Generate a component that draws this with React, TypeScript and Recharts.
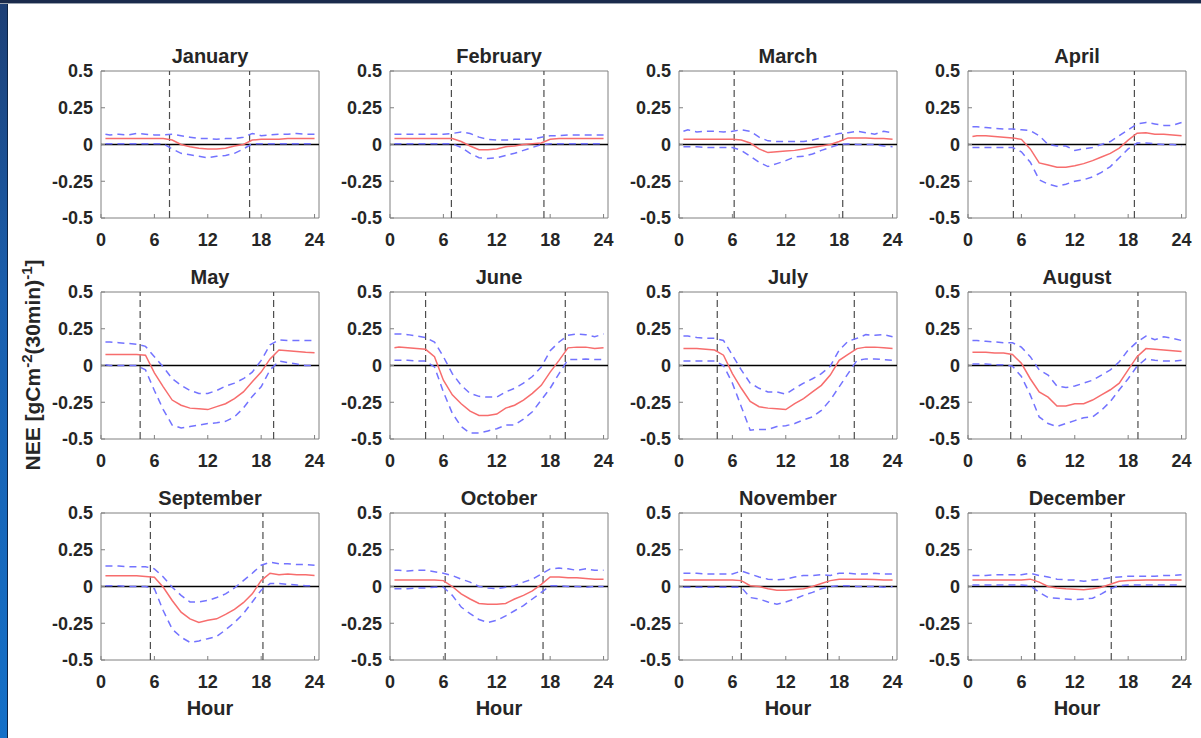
import React from "react";
import { LineChart, Line, XAxis, YAxis, ReferenceLine, ReferenceArea } from "recharts";

const HOURS = [0.5, 1, 2, 3, 4, 5, 6, 7, 8, 9, 10, 11, 12, 13, 14, 15, 16, 17, 18, 19, 20, 21, 22, 23, 24];

const MONTHS = [
  "January", "February", "March", "April", "May", "June",
  "July", "August", "September", "October", "November", "December",
];

const SUNRISE = [7.7, 6.9, 6.2, 5.1, 4.4, 4.0, 4.3, 4.8, 5.55, 6.2, 7.0, 7.5];
const SUNSET = [16.7, 17.3, 18.4, 18.7, 19.4, 19.7, 19.7, 19.1, 18.2, 17.2, 16.7, 16.1];

const X_TICKS = [0, 6, 12, 18, 24];
const Y_TICKS = [-0.5, -0.25, 0, 0.25, 0.5];

// mean NEE per month (red)
const MEAN = [
  [0.04, 0.04, 0.04, 0.04, 0.04, 0.04, 0.04, 0.04, 0.03, 0.0, -0.015, -0.025, -0.03, -0.03, -0.025, -0.01, 0.0, 0.03, 0.035, 0.035, 0.035, 0.04, 0.04, 0.04, 0.04],
  [0.04, 0.04, 0.04, 0.04, 0.04, 0.04, 0.04, 0.04, 0.02, -0.01, -0.035, -0.035, -0.03, -0.015, -0.01, 0.0, 0.005, 0.01, 0.035, 0.04, 0.04, 0.04, 0.04, 0.04, 0.04],
  [0.035, 0.035, 0.035, 0.035, 0.035, 0.035, 0.035, 0.03, 0.01, -0.03, -0.055, -0.05, -0.045, -0.04, -0.03, -0.02, -0.01, 0.0, 0.02, 0.045, 0.045, 0.045, 0.04, 0.04, 0.035],
  [0.055, 0.06, 0.06, 0.055, 0.05, 0.045, 0.035, -0.03, -0.125, -0.14, -0.155, -0.155, -0.145, -0.13, -0.11, -0.085, -0.06, -0.025, 0.03, 0.077, 0.08, 0.07, 0.07, 0.065, 0.06],
  [0.075, 0.075, 0.075, 0.075, 0.075, 0.07, -0.05, -0.145, -0.235, -0.27, -0.29, -0.295, -0.3, -0.28, -0.26, -0.225, -0.18, -0.11, -0.045, 0.045, 0.105, 0.1, 0.095, 0.09, 0.087],
  [0.12, 0.125, 0.12, 0.115, 0.11, 0.06, -0.1, -0.2, -0.26, -0.31, -0.34, -0.34, -0.33, -0.29, -0.27, -0.235, -0.19, -0.135, -0.045, 0.035, 0.12, 0.125, 0.125, 0.115, 0.12],
  [0.115, 0.115, 0.115, 0.11, 0.105, 0.07, -0.055, -0.155, -0.245, -0.28, -0.29, -0.295, -0.3, -0.26, -0.225, -0.18, -0.135, -0.065, 0.035, 0.075, 0.115, 0.125, 0.125, 0.12, 0.115],
  [0.09, 0.09, 0.09, 0.085, 0.085, 0.075, 0.015, -0.09, -0.18, -0.215, -0.275, -0.275, -0.26, -0.26, -0.235, -0.2, -0.165, -0.12, -0.03, 0.06, 0.115, 0.11, 0.105, 0.1, 0.095],
  [0.073, 0.073, 0.073, 0.073, 0.073, 0.068, 0.063, -0.005, -0.095, -0.175, -0.22, -0.245, -0.23, -0.22, -0.19, -0.155, -0.11, -0.05, 0.04, 0.09, 0.08, 0.085, 0.08, 0.08, 0.075],
  [0.045, 0.045, 0.045, 0.045, 0.045, 0.045, 0.04, 0.0, -0.05, -0.085, -0.115, -0.12, -0.12, -0.115, -0.085, -0.06, -0.03, 0.015, 0.065, 0.065, 0.06, 0.06, 0.055, 0.05, 0.05],
  [0.045, 0.045, 0.045, 0.045, 0.045, 0.045, 0.045, 0.04, 0.005, 0.0, -0.015, -0.025, -0.025, -0.02, -0.015, 0.0, 0.02, 0.04, 0.05, 0.05, 0.05, 0.05, 0.048, 0.045, 0.045],
  [0.045, 0.045, 0.045, 0.045, 0.045, 0.045, 0.045, 0.05, 0.03, 0.0, -0.01, -0.015, -0.018, -0.022, -0.015, -0.005, 0.015, 0.035, 0.04, 0.042, 0.045, 0.045, 0.045, 0.045, 0.045],
];

// upper bound (blue dashed)
const UPPER = [
  [0.07, 0.065, 0.07, 0.065, 0.075, 0.07, 0.065, 0.065, 0.07, 0.06, 0.05, 0.04, 0.04, 0.035, 0.04, 0.04, 0.05, 0.075, 0.06, 0.065, 0.07, 0.07, 0.075, 0.07, 0.07],
  [0.07, 0.07, 0.07, 0.07, 0.07, 0.07, 0.07, 0.075, 0.085, 0.075, 0.05, 0.035, 0.03, 0.03, 0.035, 0.035, 0.035, 0.05, 0.06, 0.06, 0.065, 0.065, 0.065, 0.065, 0.065],
  [0.09, 0.1, 0.085, 0.09, 0.09, 0.085, 0.09, 0.1, 0.09, 0.05, 0.025, 0.02, 0.02, 0.02, 0.02, 0.03, 0.045, 0.06, 0.075, 0.08, 0.09, 0.08, 0.07, 0.09, 0.08],
  [0.12, 0.12, 0.115, 0.11, 0.105, 0.105, 0.1, 0.095, 0.06, 0.0, -0.01, -0.01, -0.04, -0.03, -0.02, 0.0, 0.02, 0.06, 0.1, 0.14, 0.15, 0.14, 0.13, 0.13, 0.15],
  [0.16, 0.16, 0.155, 0.15, 0.145, 0.13, 0.06, -0.01, -0.09, -0.135, -0.17, -0.19, -0.19, -0.17, -0.14, -0.12, -0.09, -0.045, 0.035, 0.14, 0.175, 0.17, 0.17, 0.17, 0.17],
  [0.215, 0.215, 0.21, 0.2, 0.19, 0.16, 0.06, -0.055, -0.135, -0.19, -0.21, -0.215, -0.215, -0.18, -0.155, -0.12, -0.075, -0.01, 0.1, 0.16, 0.205, 0.215, 0.21, 0.195, 0.215],
  [0.2, 0.2, 0.19, 0.185, 0.185, 0.17, 0.07, -0.03, -0.12, -0.155, -0.18, -0.18, -0.195, -0.155, -0.12, -0.09, -0.055, -0.005, 0.105, 0.165, 0.185, 0.21, 0.205, 0.21, 0.195],
  [0.17, 0.17, 0.165, 0.16, 0.155, 0.155, 0.125, 0.06, -0.03, -0.065, -0.14, -0.15, -0.14, -0.12, -0.1, -0.065, -0.03, 0.025, 0.105, 0.16, 0.2, 0.175, 0.195, 0.185, 0.17],
  [0.14, 0.14, 0.14, 0.135, 0.135, 0.135, 0.12, 0.065, -0.005, -0.06, -0.105, -0.105, -0.095, -0.075, -0.05, -0.01, 0.04, 0.09, 0.145, 0.165, 0.155, 0.155, 0.15, 0.15, 0.145],
  [0.11, 0.11, 0.105, 0.11, 0.11, 0.1, 0.09, 0.075, 0.05, 0.03, 0.0, -0.01, -0.015, -0.005, 0.005, 0.03, 0.05, 0.085, 0.12, 0.125, 0.12, 0.11, 0.12, 0.11, 0.11],
  [0.09, 0.09, 0.09, 0.085, 0.085, 0.085, 0.085, 0.105, 0.085, 0.065, 0.05, 0.045, 0.05, 0.065, 0.075, 0.075, 0.08, 0.075, 0.09, 0.09, 0.085, 0.085, 0.09, 0.085, 0.085],
  [0.075, 0.075, 0.075, 0.08, 0.08, 0.08, 0.08, 0.09, 0.075, 0.065, 0.05, 0.045, 0.045, 0.035, 0.045, 0.05, 0.06, 0.065, 0.07, 0.07, 0.07, 0.07, 0.075, 0.075, 0.08],
];

// lower bound (blue dashed)
const LOWER = [
  [0.005, 0.005, 0.005, 0.005, 0.005, 0.005, 0.005, 0.005, -0.03, -0.06, -0.07, -0.08, -0.09, -0.08, -0.075, -0.06, -0.03, 0.005, 0.005, 0.005, 0.005, 0.005, 0.005, 0.005, 0.005],
  [0.005, 0.005, 0.005, 0.005, 0.005, 0.005, 0.005, 0.005, -0.02, -0.06, -0.09, -0.095, -0.09, -0.075, -0.06, -0.04, -0.02, 0.0, 0.005, 0.005, 0.005, 0.005, 0.005, 0.005, 0.005],
  [-0.015, -0.015, -0.015, -0.02, -0.02, -0.02, -0.02, -0.04, -0.08, -0.12, -0.15, -0.13, -0.11, -0.085, -0.08, -0.065, -0.04, -0.02, 0.0, 0.005, 0.0, 0.0, 0.0, -0.01, -0.015],
  [-0.02, -0.02, -0.02, -0.02, -0.02, -0.02, -0.05, -0.12, -0.24, -0.27, -0.285, -0.27, -0.25, -0.24, -0.22, -0.19, -0.15, -0.09, -0.03, 0.01, 0.01, 0.005, 0.0, 0.0, -0.01],
  [0.005, 0.0, 0.0, 0.0, 0.0, -0.03, -0.17, -0.3, -0.405, -0.425, -0.415, -0.405, -0.395, -0.39, -0.38, -0.35, -0.29, -0.21, -0.145, -0.03, 0.03, 0.02, 0.01, 0.0, 0.0],
  [0.035, 0.035, 0.035, 0.03, 0.03, -0.01, -0.18, -0.325, -0.415, -0.46, -0.46, -0.445, -0.43, -0.405, -0.405, -0.365, -0.315, -0.235, -0.155, -0.055, 0.04, 0.04, 0.045, 0.04, 0.04],
  [0.03, 0.03, 0.03, 0.03, 0.03, 0.0, -0.12, -0.28, -0.44, -0.435, -0.435, -0.415, -0.41, -0.395, -0.37, -0.35, -0.305, -0.235, -0.145, -0.055, 0.035, 0.045, 0.045, 0.04, 0.035],
  [0.01, 0.01, 0.01, 0.005, 0.005, -0.005, -0.075, -0.2, -0.35, -0.395, -0.415, -0.395, -0.375, -0.355, -0.35, -0.305, -0.245, -0.165, -0.09, -0.005, 0.045, 0.035, 0.03, 0.03, 0.035],
  [0.005, 0.005, 0.005, 0.0, 0.0, 0.0, -0.015, -0.165, -0.29, -0.345, -0.38, -0.37, -0.355, -0.34, -0.295, -0.245, -0.185, -0.105, -0.025, 0.02, 0.02, 0.015, 0.01, 0.005, 0.005],
  [-0.015, -0.015, -0.015, -0.01, -0.01, -0.005, -0.005, -0.06, -0.14, -0.185, -0.225, -0.245, -0.23, -0.2, -0.165, -0.13, -0.085, -0.04, 0.005, 0.005, 0.0, 0.0, -0.005, 0.0, 0.0],
  [-0.005, -0.005, -0.005, -0.005, -0.005, -0.005, -0.005, -0.005, -0.075, -0.085, -0.105, -0.12, -0.105, -0.085, -0.06, -0.04, -0.015, 0.0, 0.005, 0.005, 0.0, 0.0, 0.0, -0.005, 0.0],
  [0.01, 0.01, 0.01, 0.01, 0.01, 0.01, 0.01, 0.005, -0.04, -0.075, -0.08, -0.085, -0.09, -0.085, -0.08, -0.05, -0.015, 0.005, 0.01, 0.01, 0.01, 0.01, 0.01, 0.01, 0.01],
];

const FONT = "'Liberation Sans', Arial, Helvetica, sans-serif";
const TEXT = "#262626";
const BOX = "#808080";

const PLOT_LEFT = [101, 390, 679, 968];
const PLOT_TOP = [71, 292, 513];
const PLOT_W = 218;
const PLOT_H = 147;
const Y_AXIS_W = 70;
const PAD_TOP = 14;
const X_AXIS_H = 40;

function Panel({ m }: { m: number }) {
  const col = m % 4;
  const row = Math.floor(m / 4);
  const data = HOURS.map((h, i) => ({
    h,
    mean: MEAN[m][i],
    up: UPPER[m][i],
    lo: LOWER[m][i],
  }));
  const left = PLOT_LEFT[col];
  const top = PLOT_TOP[row];
  const tickStyle = { fill: TEXT, fontSize: 18, fontWeight: 700, fontFamily: FONT };

  return (
    <>
      <div
        style={{
          position: "absolute",
          left,
          top: top - 25,
          width: PLOT_W,
          textAlign: "center",
          fontFamily: FONT,
          fontWeight: 700,
          fontSize: 20,
          lineHeight: "20px",
          color: TEXT,
        }}
      >
        {MONTHS[m]}
      </div>
      <div style={{ position: "absolute", left: left - Y_AXIS_W, top: top - PAD_TOP }}>
        <LineChart
          width={Y_AXIS_W + PLOT_W + 14}
          height={PAD_TOP + PLOT_H + X_AXIS_H}
          data={data}
          margin={{ top: PAD_TOP, right: 14, bottom: 0, left: 0 }}
        >
          <XAxis
            dataKey="h"
            type="number"
            domain={[0, 24.5]}
            ticks={X_TICKS}
            interval={0}
            allowDataOverflow
            axisLine={false}
            tickLine={{ stroke: BOX }}
            tickSize={-4}
            tickMargin={19}
            height={X_AXIS_H}
            tick={tickStyle}
          />
          <XAxis
            xAxisId="top"
            orientation="top"
            mirror
            dataKey="h"
            type="number"
            domain={[0, 24.5]}
            ticks={X_TICKS}
            allowDataOverflow
            axisLine={false}
            tickLine={{ stroke: BOX }}
            tickSize={4}
            tick={false}
            height={0}
          />
          <YAxis
            type="number"
            domain={[-0.5, 0.5]}
            ticks={Y_TICKS}
            interval={0}
            allowDataOverflow
            axisLine={false}
            tickLine={{ stroke: BOX }}
            tickSize={-4}
            tickMargin={12}
            width={Y_AXIS_W}
            tick={tickStyle}
          />
          <YAxis
            yAxisId="right"
            orientation="right"
            mirror
            type="number"
            domain={[-0.5, 0.5]}
            ticks={Y_TICKS}
            allowDataOverflow
            axisLine={false}
            tickLine={{ stroke: BOX }}
            tickSize={4}
            tick={false}
            width={0}
          />
          <ReferenceArea
            x1={0}
            x2={24.5}
            y1={-0.5}
            y2={0.5}
            fill="none"
            stroke={BOX}
            strokeWidth={1}
            ifOverflow="visible"
          />
          <ReferenceLine y={0} stroke="#000" strokeWidth={1.5} />
          <ReferenceLine x={SUNRISE[m]} stroke="#4d4d4d" strokeWidth={1.2} strokeDasharray="7 4" />
          <ReferenceLine x={SUNSET[m]} stroke="#4d4d4d" strokeWidth={1.2} strokeDasharray="7 4" />
          <Line
            type="linear"
            dataKey="up"
            stroke="#7373ff"
            strokeWidth={1.5}
            strokeDasharray="7 5"
            dot={false}
            isAnimationActive={false}
          />
          <Line
            type="linear"
            dataKey="lo"
            stroke="#7373ff"
            strokeWidth={1.5}
            strokeDasharray="7 5"
            dot={false}
            isAnimationActive={false}
          />
          <Line
            type="linear"
            dataKey="mean"
            stroke="#f76d6d"
            strokeWidth={1.5}
            dot={false}
            isAnimationActive={false}
          />
        </LineChart>
      </div>
      {row === 2 && (
        <div
          style={{
            position: "absolute",
            left,
            top: 698,
            width: PLOT_W,
            textAlign: "center",
            fontFamily: FONT,
            fontWeight: 700,
            fontSize: 20,
            lineHeight: "20px",
            color: TEXT,
          }}
        >
          Hour
        </div>
      )}
    </>
  );
}

export default function App() {
  return (
    <div
      style={{
        position: "absolute",
        left: 0,
        top: 0,
        width: 1201,
        height: 738,
        background: "#fff",
        overflow: "hidden",
      }}
    >
      <div
        style={{
          position: "absolute",
          left: 0,
          top: 0,
          width: 7,
          height: 738,
          background: "linear-gradient(#1d3f75, #1a5fae 40%, #1470c8)",
          borderRight: "1px solid #0d2445",
        }}
      />
      <div
        style={{
          position: "absolute",
          left: 0,
          top: 0,
          width: 1201,
          height: 3,
          background: "#1a2b4c",
          borderBottom: "1px solid #9aa3b0",
        }}
      />
      <svg
        style={{ position: "absolute", left: 0, top: 0 }}
        width={60}
        height={738}
      >
        <text
          transform="translate(40, 365) rotate(-90)"
          textAnchor="middle"
          fontFamily={FONT}
          fontWeight={700}
          fontSize={21}
          fill={TEXT}
        >
          NEE [gCm
          <tspan fontSize={15} dy={-8}>-2</tspan>
          <tspan dy={8}>(30min)</tspan>
          <tspan fontSize={15} dy={-8}>-1</tspan>
          <tspan dy={8}>]</tspan>
        </text>
      </svg>
      {MONTHS.map((_, m) => (
        <Panel key={m} m={m} />
      ))}
    </div>
  );
}
